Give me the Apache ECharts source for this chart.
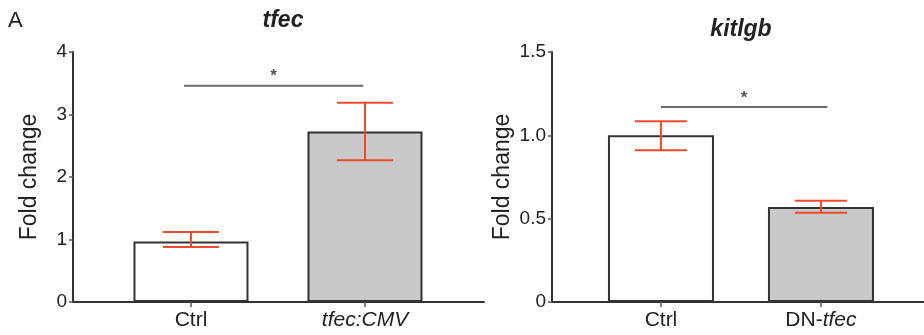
<!DOCTYPE html>
<html>
<head>
<meta charset="utf-8">
<script src="https://cdn.jsdelivr.net/npm/echarts@6/dist/echarts.min.js"></script>
<style>
  html, body { margin: 0; padding: 0; background: #fff; }
  #chart { width: 924px; height: 335px; }
</style>
</head>
<body>
<div id="chart"></div>
<script>
// left panel: tfec
var tfecCats = ['Ctrl', 'tfec:CMV'];
var tfecMean = [0.97, 2.73];
var tfecLow = [0.88, 2.27];
var tfecHigh = [1.12, 3.19];
var tfecTicks = ['0', '1', '2', '3', '4'];
var tfecSig = [-0.04, 0.99, 3.46]; // x from, x to, y

// right panel: kitlgb
var kitCats = ['Ctrl', 'DN-tfec'];
var kitMean = [1.0, 0.57];
var kitLow = [0.91, 0.536];
var kitHigh = [1.085, 0.608];
var kitTicks = ['0', '0.5', '1.0', '1.5'];
var kitSig = [0, 1.04, 1.17];

var barFill = ['#ffffff', '#c9c9c9'];
var FONT = 'Liberation Sans, Arial, sans-serif';
var AXIS = '#333333';
var RED = '#ef4a2c';

// label text -> rich string (italic gene names)
var labelRich = {
  'Ctrl': 'Ctrl',
  'tfec:CMV': '{i|tfec:CMV}',
  'DN-tfec': 'DN-{i|tfec}'
};

function barData(means) {
  return means.map(function (v, i) {
    return { value: [i, v], itemStyle: { color: barFill[i] } };
  });
}
function errData(low, high) {
  return low.map(function (v, i) { return [i, v, high[i]]; });
}

function errItem(capHalf) {
  return function (params, api) {
    var x = api.value(0);
    var lo = api.coord([x, api.value(1)]);
    var hi = api.coord([x, api.value(2)]);
    var st = { stroke: RED, lineWidth: 2 };
    return {
      type: 'group',
      children: [
        { type: 'line', shape: { x1: lo[0], y1: lo[1], x2: hi[0], y2: hi[1] }, style: st },
        { type: 'line', shape: { x1: lo[0] - capHalf, y1: lo[1], x2: lo[0] + capHalf, y2: lo[1] }, style: st },
        { type: 'line', shape: { x1: hi[0] - capHalf, y1: hi[1], x2: hi[0] + capHalf, y2: hi[1] }, style: st }
      ]
    };
  };
}

function sigItem(params, api) {
  var a = api.coord([api.value(0), api.value(2)]);
  var b = api.coord([api.value(1), api.value(2)]);
  return {
    type: 'group',
    children: [
      { type: 'line', shape: { x1: a[0], y1: a[1], x2: b[0], y2: b[1] },
        style: { stroke: '#6a6a6a', lineWidth: 2 } },
      { type: 'text', x: (a[0] + b[0]) / 2, y: a[1] - 9,
        style: { text: '*', fill: '#555', font: 'bold 17px ' + FONT, align: 'center', verticalAlign: 'middle' } }
    ]
  };
}

function xAxisOf(grid, cats, min, max) {
  return {
    type: 'value', gridIndex: grid, min: min, max: max,
    splitLine: { show: false },
    axisLine: { lineStyle: { color: AXIS, width: 2 } },
    axisTick: { customValues: [0, 1], length: 5, lineStyle: { color: '#555', width: 1.5 } },
    axisLabel: {
      customValues: [0, 1], margin: 8, color: '#222', fontSize: 21, fontFamily: FONT,
      formatter: function (v) { return labelRich[cats[Math.round(v)]]; },
      rich: { i: { fontStyle: 'italic', fontSize: 21, fontFamily: FONT, color: '#222' } }
    }
  };
}

function yAxisOf(grid, max, step, ticks, gap) {
  return {
    type: 'value', gridIndex: grid, min: 0, max: max, interval: step,
    name: 'Fold change', nameLocation: 'middle', nameGap: gap,
    nameTextStyle: { fontSize: 23, color: '#222', fontFamily: FONT },
    splitLine: { show: false },
    axisLine: { show: true, onZero: false, lineStyle: { color: AXIS, width: 2 } },
    axisTick: { show: true, length: 4, lineStyle: { color: '#555', width: 1.5 } },
    axisLabel: {
      margin: 6, color: '#222', fontSize: 19, fontFamily: FONT,
      formatter: function (v, idx) { return ticks[idx]; }
    }
  };
}

var chart = echarts.init(document.getElementById('chart'));
chart.setOption({
  animation: false,
  backgroundColor: '#fff',
  grid: [
    { left: 73, right: 440, top: 52, bottom: 33, outerBoundsMode: 'none' },
    { left: 552, right: 0, top: 52, bottom: 33, outerBoundsMode: 'none' }
  ],
  xAxis: [
    xAxisOf(0, tfecCats, -0.678, 1.684),
    xAxisOf(1, kitCats, -0.681, 1.644)
  ],
  yAxis: [
    yAxisOf(0, 4, 1, tfecTicks, 32),
    yAxisOf(1, 1.5, 0.5, kitTicks, 38)
  ],
  graphic: [
    { type: 'text', left: 8, top: 10, style: { text: 'A', font: '22px ' + FONT, fill: '#222' } },
    { type: 'text', x: 283, y: 21, style: { text: 'tfec', font: 'italic bold 23px ' + FONT, fill: '#222', align: 'center', verticalAlign: 'middle' } },
    { type: 'text', x: 741, y: 30, style: { text: 'kitlgb', font: 'italic bold 23px ' + FONT, fill: '#222', align: 'center', verticalAlign: 'middle' } }
  ],
  series: [
    {
      type: 'bar', xAxisIndex: 0, yAxisIndex: 0, barWidth: 115,
      itemStyle: { borderColor: AXIS, borderWidth: 2 },
      data: barData(tfecMean)
    },
    {
      type: 'custom', xAxisIndex: 0, yAxisIndex: 0, z: 5,
      renderItem: errItem(28), data: errData(tfecLow, tfecHigh)
    },
    {
      type: 'custom', xAxisIndex: 0, yAxisIndex: 0, z: 5,
      renderItem: sigItem, data: [tfecSig]
    },
    {
      type: 'bar', xAxisIndex: 1, yAxisIndex: 1, barWidth: 106,
      itemStyle: { borderColor: AXIS, borderWidth: 2 },
      data: barData(kitMean)
    },
    {
      type: 'custom', xAxisIndex: 1, yAxisIndex: 1, z: 5,
      renderItem: errItem(26), data: errData(kitLow, kitHigh)
    },
    {
      type: 'custom', xAxisIndex: 1, yAxisIndex: 1, z: 5,
      renderItem: sigItem, data: [kitSig]
    }
  ]
});
</script>
</body>
</html>
